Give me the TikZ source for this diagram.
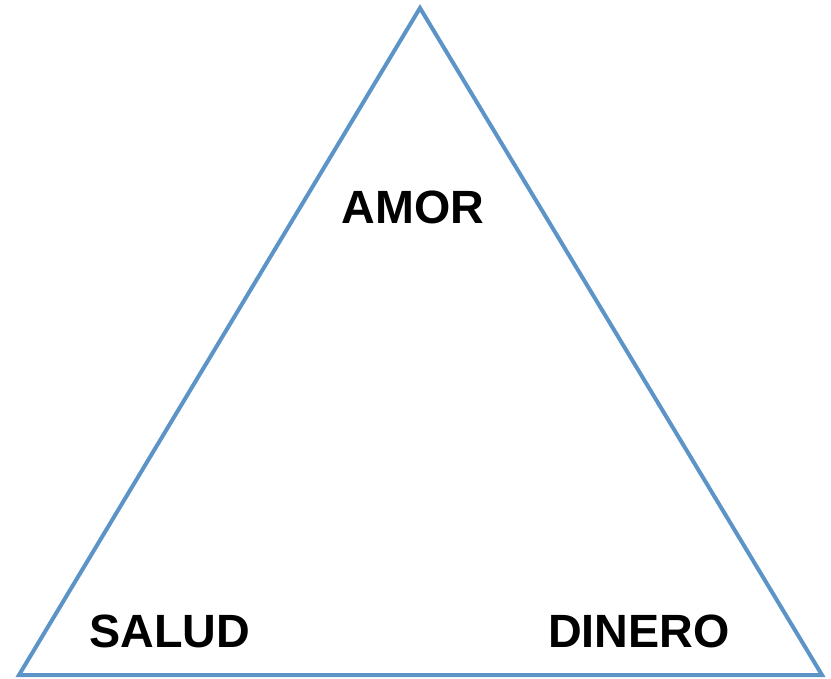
\documentclass[tikz,border=0pt]{standalone}
\usepackage{fontspec}
\setmainfont{Liberation Sans}
\usetikzlibrary{positioning}
\definecolor{edgeblue}{RGB}{92,148,200}
\tikzset{
  side/.style = {draw=edgeblue, line width=3pt, line join=miter},
  word/.style = {font=\bfseries\fontsize{35}{40}\selectfont, inner sep=0pt, anchor=center}
}

\begin{document}
\begin{tikzpicture}[x=0.75pt, y=-0.75pt]
            \useasboundingbox (0,0) rectangle (831,678);
            \coordinate (top) at (420,8);
            \coordinate (bl) at (19,675);
            \coordinate (br) at (822,675);
            \draw[side] (top) -- (br) -- (bl) -- cycle;
            \node[word] (amor) at (413,207) {AMOR};
            \node[word] (salud) at (170,631) {SALUD};
            \node[word] (dinero) at (639,631) {DINERO};
        \end{tikzpicture}
\end{document}
